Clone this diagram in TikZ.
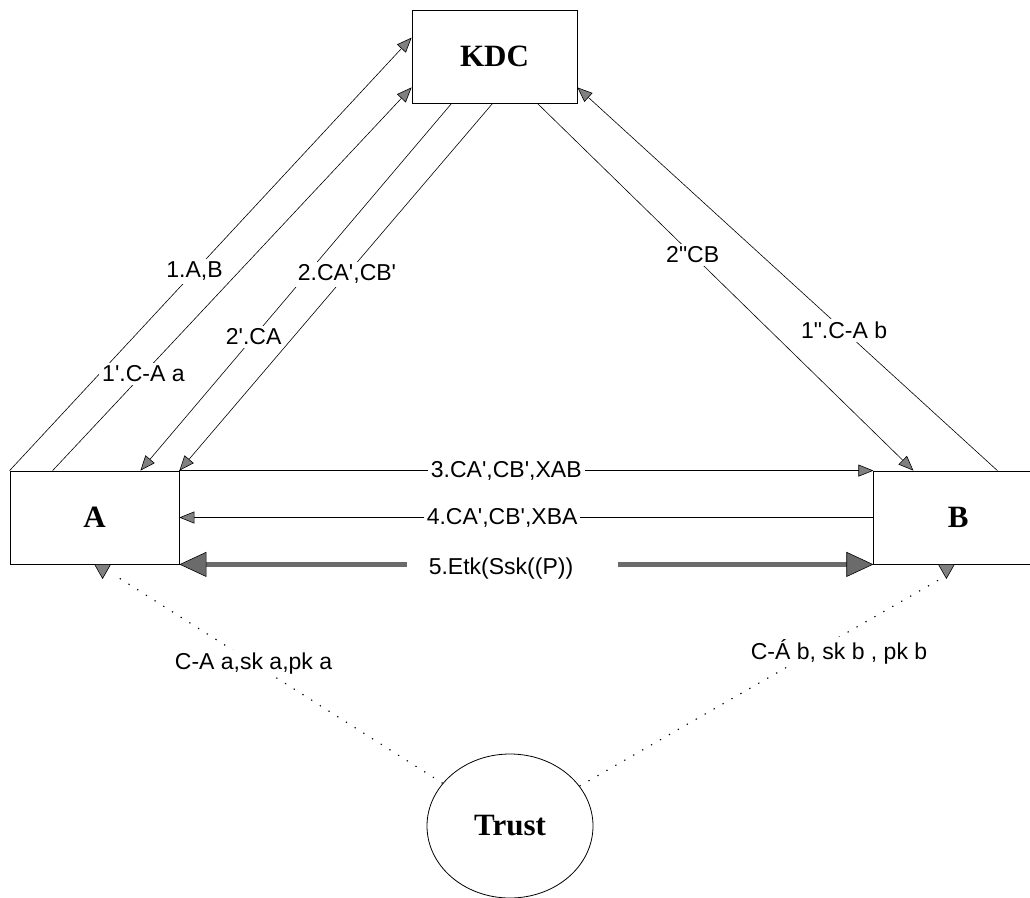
\documentclass[tikz,border=0pt]{standalone}
\usepackage{fontspec}
\setmainfont{Liberation Serif}
\newfontfamily\lblfont{Liberation Sans}
\usetikzlibrary{arrows.meta,positioning,shapes.geometric}
\definecolor{tipgray}{gray}{0.5}
\definecolor{thickgray}{gray}{0.42}
\tikzset{
	party/.style={draw, line width=0.8pt, minimum width=169pt, minimum height=93pt, font=\fontsize{31}{31}\selectfont\bfseries},
	msg/.style={line width=0.6pt, -{Triangle[length=15pt,width=12pt,fill=tipgray]}},
	bigmsg/.style={line width=5pt, thickgray, -{Triangle[length=27pt,width=25pt,line width=0.6pt,color=black,fill=thickgray]}},
	keyline/.style={line width=1.1pt, black, dash pattern=on 1.3pt off 9pt},
	keytip/.style={draw, line width=0.6pt, fill=tipgray},
	lbl/.style={fill=white, inner sep=3pt, text=black, font=\lblfont\fontsize{23}{23}\selectfont},
}
\begin{document}
\begin{tikzpicture}[x=1pt,y=-1pt]
	\useasboundingbox (0,0) rectangle (1030,897);
	\node[party, minimum width=165pt] (kdc) at (494.5,56.5) {KDC};
	\node[party] (a) at (94.5,517.5) {A};
	\node[party, right=694pt of a] (b) {B};
	\node[draw, ellipse, line width=0.8pt, minimum width=166pt, minimum height=144pt, font=\fontsize{31}{31}\selectfont\bfseries] (trust) at (510,826) {Trust};

	% A <-> KDC
	\draw[msg] (a.north west) -- node[lbl, pos=0.46] {1.A,B} ([yshift=-28pt]kdc.north west);
	\draw[msg] ([xshift=43pt]a.north west) -- node[lbl, pos=0.253] {1'.C-A a} ([yshift=16pt]kdc.south west);
	\draw[msg] ([xshift=40pt]kdc.south west) -- node[lbl, pos=0.636] {2'.CA} ([xshift=-39pt]a.north east);
	\draw[msg] ([xshift=81pt]kdc.south west) -- node[lbl, pos=0.465] {2.CA',CB'} (a.north east);

	% B <-> KDC
	\draw[msg] ([xshift=-40pt]kdc.south east) -- node[lbl, pos=0.413] {2"CB} ([xshift=40pt]b.north west);
	\draw[msg] ([xshift=124pt]b.north west) -- node[lbl, pos=0.365] {1".C-A b} ([yshift=16pt]kdc.south east);

	% A <-> B
	\draw[msg] (a.north east) -- node[lbl, pos=0.471] {3.CA',CB',XAB} (b.north west);
	\draw[msg] (b.west) -- node[lbl, pos=0.535] {4.CA',CB',XBA} (a.east);
	\node[lbl, fill=none] (five) at (501,569) {5.Etk(Ssk((P))};
	\draw[bigmsg] ([xshift=-19pt]five.west |- a.south east) -- (a.south east);
	\draw[bigmsg] ([xshift=42pt]five.east |- b.south west) -- (b.south west);

	% Trust
	\coordinate (ta) at ([xshift=93pt]a.south west);
	\coordinate (tb) at ([xshift=73pt]b.south west);
	\draw[keyline] (trust) -- node[lbl, pos=0.58] {C-A a,sk a,pk a} ([xshift=14pt,yshift=-12pt]ta);
	\draw[keyline] (trust) -- ([xshift=-5pt,yshift=-14pt]tb);
	\draw[keytip] ([xshift=-8pt]ta) -- ([xshift=8pt]ta) -- ([yshift=-14pt]ta) -- cycle;
	\draw[keytip] ([xshift=-8pt]tb) -- ([xshift=8pt]tb) -- ([yshift=-14pt]tb) -- cycle;
	\node[lbl] (keyb) at (839,652) {C-Á b, sk b , pk b};
\end{tikzpicture}
\end{document}
